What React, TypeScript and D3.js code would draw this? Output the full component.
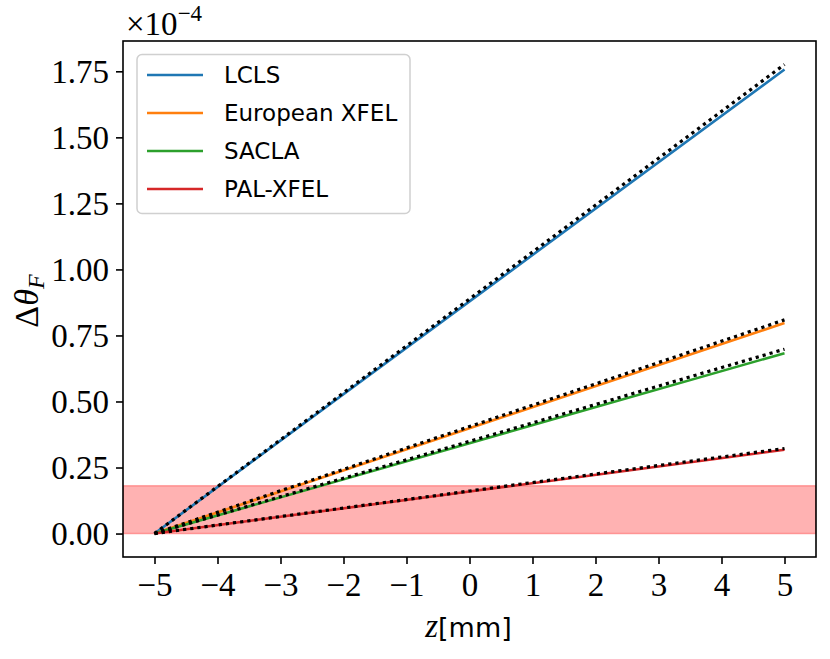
import React, { useEffect, useRef } from 'react'
import * as d3 from 'd3'

const zPoints = [-5, 0, 5]
const stations = ['LCLS', 'European XFEL', 'SACLA', 'PAL-XFEL']
const colors = ['#1f77b4', '#ff7f0e', '#2ca02c', '#d62728']
// solid curves, in units of 1e-4
const solidValues = [
  [0, 0.879, 1.757],
  [0, 0.399, 0.797],
  [0, 0.342, 0.683],
  [0, 0.159, 0.317],
]
// dotted (approximation) curves
const dottedValues = [
  [0, 0.888, 1.776],
  [0, 0.405, 0.809],
  [0, 0.349, 0.698],
  [0, 0.161, 0.322],
]
const bandRange = [0, 0.181]
const xTicks = [-5, -4, -3, -2, -1, 0, 1, 2, 3, 4, 5]
const yTicks = [0, 0.25, 0.5, 0.75, 1.0, 1.25, 1.5, 1.75]

const W = 830
const H = 659
const SERIF = '"Liberation Serif", "DejaVu Serif", serif'
const SANS = '"DejaVu Sans", sans-serif'

const App: React.FC = () => {
  const svgRef = useRef<SVGSVGElement>(null)

  useEffect(() => {
    document.body.style.margin = '0'
    const svg = d3.select(svgRef.current)
    svg.selectAll('*').remove()

    const left = 123, right = 816, top = 41, bottom = 557
    const x = d3.scaleLinear().domain([-5.5, 5.5]).range([left, right])
    const y = d3.scaleLinear().domain([-0.0888, 1.8648]).range([bottom, top])

    const defs = svg.append('defs')
    defs.append('clipPath').attr('id', 'plot-clip')
      .append('rect')
      .attr('x', left).attr('y', top)
      .attr('width', right - left).attr('height', bottom - top)

    const plot = svg.append('g').attr('clip-path', 'url(#plot-clip)')

    // shaded band
    plot.append('rect')
      .attr('x', left)
      .attr('width', right - left)
      .attr('y', y(bandRange[1]))
      .attr('height', y(bandRange[0]) - y(bandRange[1]))
      .attr('fill', '#ff0000')
      .attr('fill-opacity', 0.3)
      .attr('stroke', '#ff0000')
      .attr('stroke-opacity', 0.3)
      .attr('stroke-width', 1.5)

    const line = d3.line<number>()
      .x((_, i) => x(zPoints[i]))
      .y(d => y(d))

    solidValues.forEach((vals, i) => {
      plot.append('path')
        .datum(vals)
        .attr('fill', 'none')
        .attr('stroke', colors[i])
        .attr('stroke-width', 2.6)
        .attr('d', line)
    })
    dottedValues.forEach(vals => {
      plot.append('path')
        .datum(vals)
        .attr('fill', 'none')
        .attr('stroke', '#000')
        .attr('stroke-width', 3.2)
        .attr('stroke-dasharray', '3.2,4')
        .attr('d', line)
    })

    // axes
    const xAxis = svg.append('g')
      .attr('transform', `translate(0,${bottom})`)
      .call(d3.axisBottom(x).tickValues(xTicks).tickSize(7).tickPadding(8)
        .tickFormat(d => (+d < 0 ? '\u2212' + Math.abs(+d) : String(d))))
    const yAxis = svg.append('g')
      .attr('transform', `translate(${left},0)`)
      .call(d3.axisLeft(y).tickValues(yTicks).tickSize(7).tickPadding(7)
        .tickFormat(d => d3.format('.2f')(+d)))

    ;[xAxis, yAxis].forEach(a => {
      a.attr('font-family', SERIF).attr('font-size', 33)
      a.select('.domain').remove()
      a.selectAll('line').attr('stroke', '#000').attr('stroke-width', 1.6)
      a.selectAll('text').attr('fill', '#000')
    })
    xAxis.selectAll('text').attr('dy', '0.72em')
    yAxis.selectAll('text').attr('dy', '0.34em')

    svg.append('rect')
      .attr('x', left).attr('y', top)
      .attr('width', right - left).attr('height', bottom - top)
      .attr('fill', 'none').attr('stroke', '#000').attr('stroke-width', 1.6)

    // offset text
    const off = svg.append('text')
      .attr('x', left + 3).attr('y', 35)
      .attr('font-family', SERIF).attr('font-size', 33)
    off.append('tspan').text('\u00d710')
    off.append('tspan').attr('dy', -14).attr('font-size', 23).text('\u22124')

    // x label
    const xl = svg.append('text')
      .attr('x', (left + right) / 2 - 1).attr('y', 637)
      .attr('text-anchor', 'middle')
      .attr('font-size', 33)
    xl.append('tspan').attr('font-family', SERIF).attr('font-style', 'italic').text('z')
    xl.append('tspan').attr('font-family', SANS).attr('font-size', 27).text('[mm]')

    // y label
    const yl = svg.append('text')
      .attr('transform', `translate(38,301) rotate(-90)`)
      .attr('text-anchor', 'middle')
      .attr('font-family', SERIF)
      .attr('font-size', 34)
    yl.append('tspan').text('\u0394')
    yl.append('tspan').attr('font-style', 'italic').text('\u03b8')
    yl.append('tspan').attr('dy', 6).attr('font-style', 'italic').attr('font-size', 24).text('F')

    // legend
    const lg = svg.append('g')
    lg.append('rect')
      .attr('x', 137).attr('y', 54.5)
      .attr('width', 273).attr('height', 159)
      .attr('rx', 5)
      .attr('fill', '#fff').attr('fill-opacity', 0.8)
      .attr('stroke', '#d0d0d0').attr('stroke-width', 1.5)
    stations.forEach((name, i) => {
      const cy = 75 + i * 38
      lg.append('line')
        .attr('x1', 147).attr('x2', 203)
        .attr('y1', cy).attr('y2', cy)
        .attr('stroke', colors[i]).attr('stroke-width', 2.6)
      lg.append('text')
        .attr('x', 224).attr('y', cy)
        .attr('dy', '0.36em')
        .attr('font-family', SANS)
        .attr('font-size', 23)
        .text(name)
    })
  }, [])

  return <svg ref={svgRef} width={W} height={H} style={{ display: 'block', background: '#fff' }} />
}

export default App
